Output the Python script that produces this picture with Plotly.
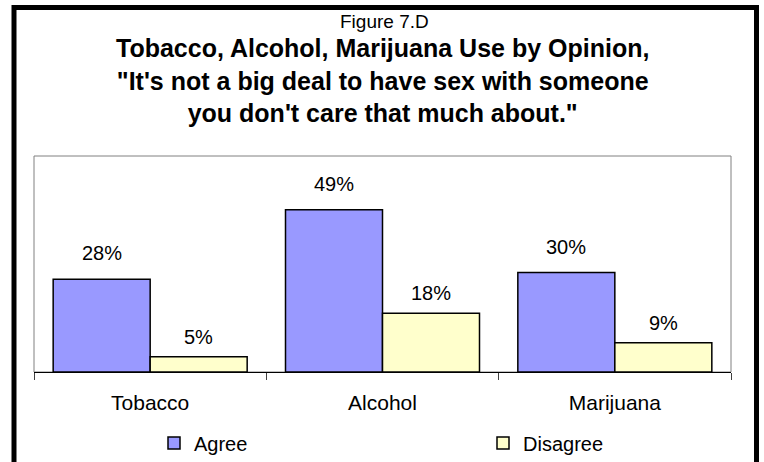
import plotly.graph_objects as go

# ---- data ----
categories = ["Tobacco", "Alcohol", "Marijuana"]
agree = [28, 49, 30]
disagree = [4.6, 17.7, 8.8]
series_names = ["Agree", "Disagree"]
fig_label = "Figure 7.D"
title_lines = [
    "Tobacco, Alcohol, Marijuana Use by Opinion,",
    "\"It's not a big deal to have sex with someone",
    "you don't care that much about.\"",
]

# ---- styling / layout ----
W, H = 764, 462
ML, MR, MT, MB = 34, 33, 156, 90
PW, PH = W - ML - MR, H - MT - MB
FONT = "Arial, Liberation Sans, sans-serif"
BARGAP = 0.165
colors = {"Agree": "#9999FF", "Disagree": "#FFFFCC"}
label_shift = {"Agree": 26, "Disagree": 20}
legend_ids = {"Agree": "legend", "Disagree": "legend2"}
legend_left_px = {"Agree": 154, "Disagree": 483}
LEGEND_CY = 443


def px_x(p):
    return (p - ML) / PW


def px_y(p):
    return (H - MB - p) / PH


fig = go.Figure()
for name, vals in zip(series_names, [agree, disagree]):
    fig.add_trace(go.Bar(
        name=name, x=categories, y=vals, legend=legend_ids[name],
        marker=dict(color=colors[name], line=dict(color="black", width=1.5)),
    ))

# data labels above the bars
cat_w = PW / len(categories)
bar_w = cat_w * (1 - BARGAP) / 2
for i, (name, vals) in enumerate(zip(series_names, [agree, disagree])):
    off = (-0.5 if i == 0 else 0.5) * bar_w
    for c, v in zip(categories, vals):
        fig.add_annotation(
            x=c, y=v, xref="x", yref="y", text=f"{v:.0f}%", showarrow=False,
            xshift=off, yshift=label_shift[name], yanchor="middle",
            font=dict(family=FONT, size=20, color="black"),
        )

# titles
fig.add_annotation(
    x=px_x(385), y=px_y(21), xref="paper", yref="paper", text=fig_label,
    showarrow=False, yanchor="middle", xanchor="center",
    font=dict(family=FONT, size=19, color="black"),
)
fig.add_annotation(
    x=px_x(382), y=px_y(81), xref="paper", yref="paper",
    text="<br>".join(f"<b>{t}</b>" for t in title_lines),
    showarrow=False, yanchor="middle", xanchor="center",
    font=dict(family=FONT, size=25, color="black"),
)

# plot area border (grey) and outer frame (black)
fig.add_shape(type="rect", xref="paper", yref="paper", x0=0, x1=1, y0=0, y1=1,
              line=dict(color="#808080", width=1), layer="below")
fig.add_shape(type="rect", xref="paper", yref="paper",
              x0=px_x(14), x1=px_x(756.5), y0=px_y(464.5), y1=px_y(7.5),
              line=dict(color="black", width=5))

legend_common = dict(
    orientation="h", xref="container", yref="container",
    xanchor="left", yanchor="middle",
    font=dict(family=FONT, size=20, color="black"),
    bgcolor="rgba(0,0,0,0)",
)

fig.update_layout(
    width=W, height=H,
    margin=dict(l=ML, r=MR, t=MT, b=MB, autoexpand=False),
    paper_bgcolor="white", plot_bgcolor="white",
    barmode="group", bargap=BARGAP, bargroupgap=0,
    font=dict(family=FONT, size=20, color="black"),
    showlegend=True,
    legend=dict(x=legend_left_px["Agree"] / W, y=(H - LEGEND_CY) / H, **legend_common),
    legend2=dict(x=legend_left_px["Disagree"] / W, y=(H - LEGEND_CY) / H, **legend_common),
    xaxis=dict(
        showline=True, linecolor="black", linewidth=1,
        ticks="outside", tickson="boundaries", ticklen=7, tickcolor="#404040",
        tickfont=dict(family=FONT, size=21, color="black"),
        ticklabelstandoff=12, showgrid=False, zeroline=False,
    ),
    yaxis=dict(range=[0, 65.2], showgrid=False, showticklabels=False,
               zeroline=False, showline=False, ticks=""),
)

fig.write_html("out.html", config={"displayModeBar": False},
               post_script="document.body.style.margin='0';")
